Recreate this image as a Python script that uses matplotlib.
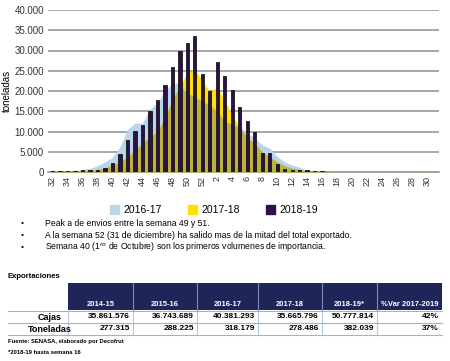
import matplotlib
matplotlib.use('Agg')
import matplotlib.pyplot as plt
from matplotlib.patches import Patch, Rectangle
from matplotlib import font_manager
import numpy as np

names = {f.name for f in font_manager.fontManager.ttflist}
main_font = 'Liberation Sans Narrow' if 'Liberation Sans Narrow' in names else 'Liberation Sans'
plt.rcParams['font.family'] = main_font

# weeks of the season (32 -> 52, then 1 -> 31)
weeks = list(range(32, 53)) + list(range(1, 32))

# toneladas per week
t_1617 = [200, 300, 300, 400, 600, 900, 1500, 2500, 3600, 6200, 10500, 12100, 12000, 15500, 17000, 20000,
          21800, 22000, 19500, 18500, 17500, 16500, 15000, 12500, 11800, 11200, 9600, 8400, 6700, 5900, 3800,
          2500, 1700, 1200, 200, 100] + [0] * 16
t_1718 = [200, 200, 200, 300, 400, 500, 600, 1000, 1700, 2500, 3800, 5400, 7100, 8700, 10000, 13500,
          17800, 21300, 24400, 25400, 22500, 19800, 21000, 17500, 14000, 11000, 8500, 7000, 5000, 3800, 2500,
          1500, 1000, 700, 400, 250, 150] + [100] * 14 + [400]
t_1819 = [300, 300, 300, 300, 400, 500, 600, 1000, 2100, 4400, 7900, 10200, 11600, 15000, 17900, 21500,
          26000, 29900, 31800, 33700, 24100, 20100, 27200, 23700, 20300, 16000, 12500, 10000, 4600, 4800, 2000,
          750, 500, 500, 400, 300, 200] + [0] * 15

season_labels = ['2016-17', '2017-18', '2018-19']
colors = ['#b9d7e8', '#ffe100', '#2f1149']
olive = '#bab53a'

bullets = [
    'Peak a de envios entre la semana 49 y 51.',
    'A la semana 52 (31 de diciembre) ha salido mas de la mitad del total exportado.',
    'Semana 40 (1$^{ro}$ de Octubre) son los primeros volumenes de importancia.',
]

# table
tab_cols = ['2014-15', '2015-16', '2016-17', '2017-18', '2018-19*', '%Var 2017-2019']
tab_rows = ['Cajas', 'Toneladas']
cajas = ['35.861.576', '36.743.689', '40.381.293', '35.665.796', '50.777.814', '42%']
toneladas = ['277.315', '288.225', '318.179', '278.486', '382.039', '37%']

W, H = 450, 361
fig = plt.figure(figsize=(W / 100, H / 100), dpi=100)

ax = fig.add_axes([48 / W, 1 - 172 / H, 391 / W, 162 / H])
x = np.arange(len(weeks))
b = np.array(t_1617)
y = np.array(t_1718)
ax.fill_between(x, 0, y, color=colors[1], lw=0, zorder=2)
ax.fill_between(x, 0, b, color=colors[0], lw=0, zorder=2)
ax.fill_between(x, 0, np.minimum(b, y), color=olive, lw=0, zorder=3)
ax.bar(x, t_1819, width=0.45, color=colors[2], edgecolor='black', linewidth=0.5, zorder=4)

ax.set_xlim(-0.6, len(weeks) - 0.4)
ax.set_ylim(0, 40000)
ax.set_yticks(range(0, 40001, 5000))
ax.set_yticklabels([f'{v:,}'.replace(',', '.') for v in range(0, 40001, 5000)], fontsize=7, color='#333333')
ax.set_xticks(x[::2])
ax.set_xticklabels([str(w) for w in weeks[::2]], rotation=90, fontsize=6.5, color='#333333')
ax.tick_params(length=0, pad=3)
ax.grid(axis='y', color='#999999', linewidth=1.2, zorder=1)
ax.set_axisbelow(True)
for s in ['top', 'right', 'left']:
    ax.spines[s].set_visible(False)
ax.spines['bottom'].set_color('#999999')
ax.spines['bottom'].set_linewidth(1.2)
ax.set_ylabel('toneladas', fontsize=7, labelpad=2)

handles = [Patch(color=c) for c in colors]
fig.legend(handles, season_labels, loc='center', bbox_to_anchor=(214 / W, 1 - 210 / H), ncol=3, frameon=False,
           fontsize=7.5, handlelength=0.9, handleheight=0.9, handletextpad=0.4, columnspacing=2.5)

# overlay axes in pixel coordinates for text and table
ov = fig.add_axes([0, 0, 1, 1])
ov.set_xlim(0, W)
ov.set_ylim(H, 0)
ov.axis('off')

for i, t in enumerate(bullets):
    yy = 224 + i * 11.5
    ov.text(22, yy, '•', fontsize=6, va='center', ha='center')
    ov.text(45, yy, t, fontsize=6.2, va='center')

ov.text(8, 277, 'Exportaciones', fontsize=5.5, fontweight='bold', va='center')

edges = [68, 133, 197, 258, 322, 377, 442]
navy = '#1f2559'
ov.add_patch(Rectangle((edges[0], 283), edges[-1] - edges[0], 27, color=navy, lw=0))
for i, c in enumerate(tab_cols):
    ov.text((edges[i] + edges[i + 1]) / 2, 304, c, color='white', fontsize=5.5, fontweight='bold',
            ha='center', va='center', family='Liberation Sans')
for e in edges[1:-1]:
    ov.plot([e, e], [283, 310], color='#7f8cc0', lw=0.8)
    ov.plot([e, e], [311, 335], color='#b9c6e0', lw=0.8)
ov.plot([edges[0], edges[0]], [311, 335], color='#b9c6e0', lw=0.8)
for yy in [311, 323, 335]:
    ov.plot([8, edges[-1]], [yy, yy], color='#9fb2d6', lw=0.8)

for r, (name, vals) in enumerate(zip(tab_rows, [cajas, toneladas])):
    yy = 317 + r * 12
    ov.text(50, yy, name, fontsize=6.5, fontweight='bold', ha='center', va='center', family='Liberation Sans')
    for i, v in enumerate(vals):
        ov.text(edges[i + 1] - 3, yy, v, fontsize=6, fontweight='bold', ha='right', va='center',
                family='Liberation Sans')

ov.text(8, 341, 'Fuente: SENASA, elaborado por Decofrut', fontsize=4.2, fontweight='bold', va='center',
        family='Liberation Sans')
ov.text(8, 352, '*2018-19 hasta semana 16', fontsize=4.2, fontweight='bold', va='center',
        family='Liberation Sans')

fig.savefig('out.png', dpi=100)
